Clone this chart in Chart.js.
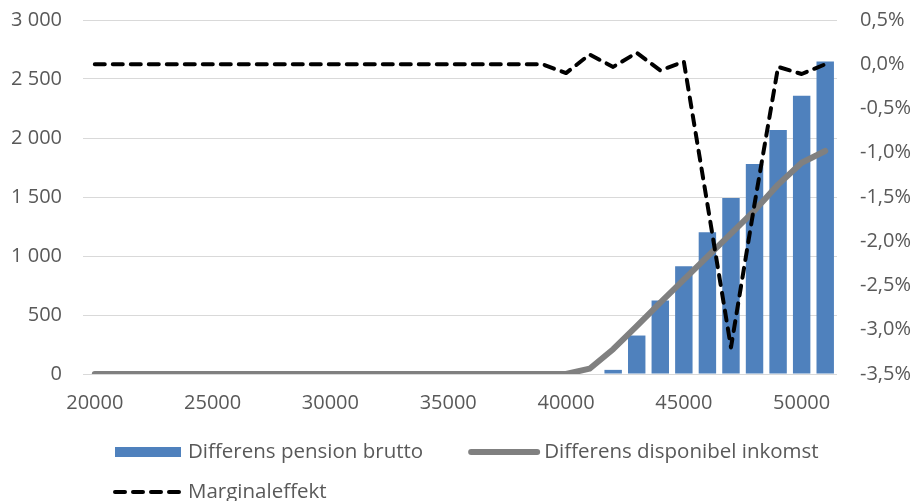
<!DOCTYPE html>
<html lang="sv">
<head>
  <meta charset="UTF-8">
  <title>Marginaleffekt</title>
  <script src="https://cdn.jsdelivr.net/npm/chart.js"></script>
  <style>
    body { margin: 0; background: #fff; }
    .wrap { width: 914px; height: 501px; }
  </style>
</head>
<body>
  <div class="wrap">
    <canvas id="chart"></canvas>
  </div>

  <script>
    // inkomstnivåer (kr/mån)
    const inkomst = [
      20000, 21000, 22000, 23000, 24000, 25000, 26000, 27000,
      28000, 29000, 30000, 31000, 32000, 33000, 34000, 35000,
      36000, 37000, 38000, 39000, 40000, 41000, 42000, 43000,
      44000, 45000, 46000, 47000, 48000, 49000, 50000, 51000
    ];
    const xEtiketter = ['20000', '25000', '30000', '35000', '40000', '45000', '50000'];

    // differens pension brutto (kr)
    const pensionBrutto = [
      0, 0, 0, 0, 0, 0, 0, 0,
      0, 0, 0, 0, 0, 0, 0, 0,
      0, 0, 0, 0, 0, 0, 35, 326,
      622, 913, 1201, 1492, 1780, 2068, 2359, 2649
    ];

    // differens disponibel inkomst (kr)
    const dispInkomst = [
      0, 0, 0, 0, 0, 0, 0, 0,
      0, 0, 0, 0, 0, 0, 0, 0,
      0, 0, 0, 0, 0, 45, 210, 405,
      605, 800, 995, 1190, 1385, 1605, 1790, 1890
    ];

    // marginaleffekt (%)
    const marginaleffekt = [
      0, 0, 0, 0, 0, 0, 0, 0,
      0, 0, 0, 0, 0, 0, 0, 0,
      0, 0, 0, 0, -0.1, 0.11, -0.03, 0.13,
      -0.07, 0.03, -1.58, -3.2, -1.58, -0.03, -0.11, 0
    ];

    const textFarg = '#595959';
    const legendRader = [[0, 1], [2]];

    function tusental(v) {
      return String(v).replace(/\B(?=(\d{3})+(?!\d))/g, ' ');
    }

    function procent(v) {
      if (Math.abs(v) < 1e-9) v = 0;
      return v.toFixed(1).replace('.', ',') + '%';
    }

    // egen förklaring under diagrammet, två rader
    const forklaring = {
      id: 'forklaring',
      afterDraw(chart) {
        const ctx = chart.ctx;
        const ds = chart.data.datasets;
        ctx.save();
        ctx.font = '20.5px "Open Sans"';
        ctx.textBaseline = 'middle';
        legendRader.forEach((rad, r) => {
          let x = 115;
          const y = 452 + r * 40;
          rad.forEach(i => {
            const d = ds[i];
            if (d.type === 'bar') {
              ctx.fillStyle = d.backgroundColor;
              ctx.fillRect(x, y - 5, 66, 10);
            } else {
              ctx.beginPath();
              ctx.setLineDash(d.borderDash || []);
              ctx.lineWidth = d.borderWidth;
              ctx.lineCap = 'round';
              ctx.strokeStyle = d.borderColor;
              ctx.moveTo(x, y);
              ctx.lineTo(x + 66, y);
              ctx.stroke();
              ctx.setLineDash([]);
            }
            ctx.fillStyle = textFarg;
            ctx.fillText(d.label, x + 73, y);
            x += 73 + ctx.measureText(d.label).width + 48;
          });
        });
        ctx.restore();
      }
    };

    Chart.defaults.font.family = '"Open Sans", sans-serif';
    Chart.defaults.font.size = 20;
    Chart.defaults.color = textFarg;

    new Chart(document.getElementById('chart'), {
      type: 'bar',
      data: {
        labels: inkomst,
        datasets: [
          {
            type: 'bar',
            label: 'Differens pension brutto',
            data: pensionBrutto,
            backgroundColor: '#4f81bd',
            borderWidth: 0,
            categoryPercentage: 1,
            barPercentage: 0.74,
            yAxisID: 'y',
            order: 3
          },
          {
            type: 'line',
            label: 'Differens disponibel inkomst',
            data: dispInkomst,
            borderColor: '#808080',
            borderWidth: 6,
            borderCapStyle: 'round',
            borderJoinStyle: 'round',
            pointRadius: 0,
            tension: 0,
            yAxisID: 'y',
            order: 2
          },
          {
            type: 'line',
            label: 'Marginaleffekt',
            data: marginaleffekt,
            borderColor: '#000000',
            borderWidth: 4,
            borderDash: [10, 8],
            borderCapStyle: 'round',
            borderJoinStyle: 'round',
            pointRadius: 0,
            tension: 0,
            yAxisID: 'y1',
            order: 1
          }
        ]
      },
      options: {
        responsive: true,
        maintainAspectRatio: false,
        animation: false,
        layout: { padding: { top: 20, bottom: 69, left: 0, right: 0 } },
        plugins: {
          legend: { display: false },
          tooltip: { enabled: false }
        },
        scales: {
          x: {
            grid: { display: false, drawTicks: false },
            border: { display: false },
            ticks: {
              autoSkip: false,
              maxRotation: 0,
              padding: 17,
              callback: function (value) {
                const lbl = String(this.getLabelForValue(value));
                return xEtiketter.includes(lbl) ? lbl : '';
              }
            }
          },
          y: {
            position: 'left',
            min: 0,
            max: 3000,
            // osynliga tickstreck ger avståndet till etiketterna
            grid: { color: '#d9d9d9', drawTicks: true, tickLength: 21, tickColor: 'rgba(0,0,0,0)' },
            border: { display: false },
            ticks: { stepSize: 500, padding: 0, callback: v => tusental(v) },
            afterFit: s => { s.width = 83; }
          },
          y1: {
            position: 'right',
            min: -3.5,
            max: 0.5,
            grid: { display: false, drawTicks: true, tickLength: 23 },
            border: { display: false },
            ticks: { stepSize: 0.5, padding: 0, callback: v => procent(v) },
            afterFit: s => { s.width = 77; }
          }
        }
      },
      plugins: [forklaring]
    });
  </script>
</body>
</html>
